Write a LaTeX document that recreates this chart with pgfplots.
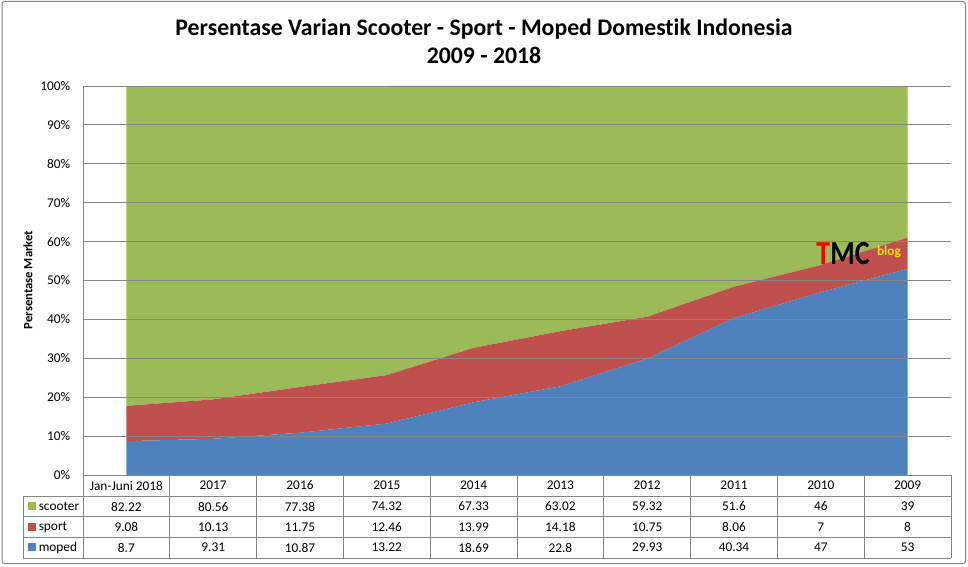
\documentclass[border=0pt]{standalone}
\usepackage{pgfplots}
\pgfplotsset{compat=1.18}
\usepackage{fontspec}
\setmainfont{Carlito}[Ligatures=NoCommon]
\definecolor{cgreen}{HTML}{9BBB59}
\definecolor{cred}{HTML}{C0504D}
\definecolor{cblue}{HTML}{4F81BD}
\definecolor{gridgray}{HTML}{868686}
\begin{document}
\begin{tikzpicture}
\begin{scope}[x=0.75pt,y=-0.75pt]
\useasboundingbox (0,0) rectangle (968,567);
\draw[gridgray, line width=0.75pt, rounded corners=2pt] (2,1.5) rectangle (965.5,563.5);
\end{scope}
\begin{axis}[
  scale only axis, width=651pt, height=291.75pt,
  anchor=south west, at={(62.25pt,-356.25pt)},
  xmin=-0.5, xmax=9.5, ymin=0, ymax=100,
  stack plots=y, area style,
  axis x line=none, axis y line*=left,
  axis line style={gridgray, line width=0.75pt},
  xtick=\empty,
  ytick={0,10,...,100},
  yticklabels={0\%,10\%,20\%,30\%,40\%,50\%,60\%,70\%,80\%,90\%,100\%},
  yticklabel style={font=\fontsize{10}{12}\selectfont, anchor=east, inner sep=0pt, xshift=-9.5pt},
  major tick length=0pt,
  ymajorgrids, major grid style={gridgray, line width=0.75pt},
  clip=false,
]
\addplot[fill=cblue, draw=none] coordinates {(0,8.7) (1,9.31) (2,10.87) (3,13.22) (4,18.69) (5,22.8) (6,29.93) (7,40.34) (8,47) (9,53)} \closedcycle;
\addplot[fill=cred, draw=none] coordinates {(0,9.08) (1,10.13) (2,11.75) (3,12.46) (4,13.99) (5,14.18) (6,10.75) (7,8.06) (8,7) (9,8)} \closedcycle;
\addplot[fill=cgreen, draw=none] coordinates {(0,82.22) (1,80.56) (2,77.38) (3,74.32) (4,67.33) (5,63.02) (6,59.32) (7,51.6) (8,46) (9,39)} \closedcycle;
\end{axis}
\begin{scope}[x=0.75pt,y=-0.75pt]
% title
\node[font=\fontsize{17.8}{21}\selectfont\bfseries, align=center] at (484,41) {Persentase Varian Scooter - Sport - Moped Domestik Indonesia\\2009 - 2018};
% y label
\node[font=\fontsize{9.5}{11}\selectfont\bfseries, rotate=90] at (28,280) {Persentase Market};
% watermark
\node[font=\fontsize{21}{21}\selectfont\bfseries, inner sep=0pt, yscale=1.2] at (843,254) {\textcolor{red}{T}MC};
\node[font=\fontsize{10}{10}\selectfont\bfseries, text=yellow!85!orange, inner sep=0pt] at (889,252) {blog};
% table
\draw[gridgray, line width=0.75pt] (83,475) -- (951,475);
\foreach \yy in {496,516.5,537,558} \draw[gridgray, line width=0.75pt] (23,\yy) -- (951,\yy);
\draw[gridgray, line width=0.75pt] (23,496) -- (23,558);
\foreach \k in {0,...,10} \draw[gridgray, line width=0.75pt] ({83+86.8*\k},475) -- ({83+86.8*\k},558);
\foreach \lab [count=\k from 0] in {Jan-Juni 2018,2017,2016,2015,2014,2013,2012,2011,2010,2009}
  \node[font=\fontsize{10}{12}\selectfont] at ({126.4+86.8*\k},485.5) {\lab};
\foreach \v [count=\k from 0] in {82.22,80.56,77.38,74.32,67.33,63.02,59.32,51.6,46,39}
  \node[font=\fontsize{10}{12}\selectfont] at ({126.4+86.8*\k},506.5) {\v};
\foreach \v [count=\k from 0] in {9.08,10.13,11.75,12.46,13.99,14.18,10.75,8.06,7,8}
  \node[font=\fontsize{10}{12}\selectfont] at ({126.4+86.8*\k},527) {\v};
\foreach \v [count=\k from 0] in {8.7,9.31,10.87,13.22,18.69,22.8,29.93,40.34,47,53}
  \node[font=\fontsize{10}{12}\selectfont] at ({126.4+86.8*\k},547.5) {\v};
% legend keys
\fill[cgreen] (28,502) rectangle (36,510);
\fill[cred] (28,522.5) rectangle (36,530.5);
\fill[cblue] (28,543) rectangle (36,551);
\node[font=\fontsize{10}{12}\selectfont, anchor=west, inner sep=0pt] at (38.5,506.5) {scooter};
\node[font=\fontsize{10}{12}\selectfont, anchor=west, inner sep=0pt] at (38.5,527) {sport};
\node[font=\fontsize{10}{12}\selectfont, anchor=west, inner sep=0pt] at (38.5,547.5) {moped};
\end{scope}
\end{tikzpicture}
\end{document}
